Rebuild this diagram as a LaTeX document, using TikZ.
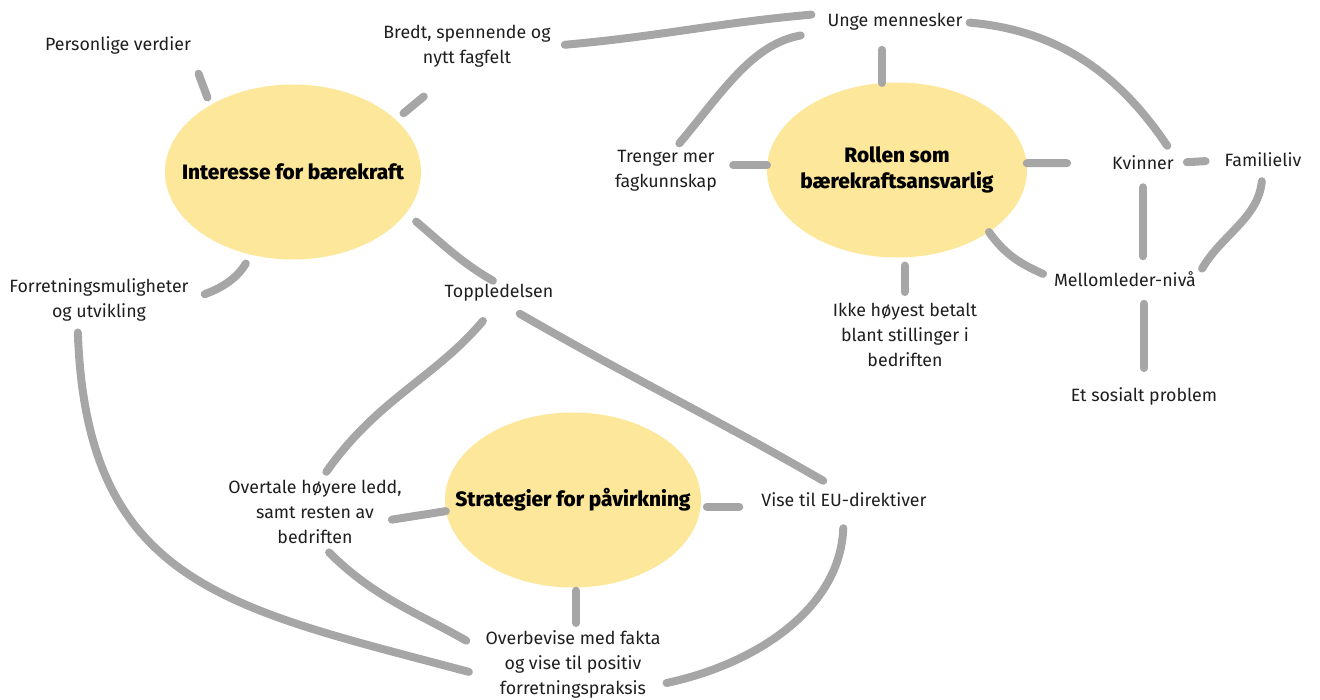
\documentclass[tikz,border=0pt]{standalone}
\usepackage{fontspec}
\setmainfont{Fira Sans}
\IfFontExistsTF{Fira Sans Heavy}{\newfontfamily\heavyfont{Fira Sans Heavy}}{%
	\IfFontExistsTF{Fira Sans ExtraBold}{\newfontfamily\heavyfont{Fira Sans ExtraBold}}{\newcommand{\heavyfont}{\bfseries}}}
\usetikzlibrary{shapes.geometric}
\definecolor{idealemon}{HTML}{FDE79A}
\definecolor{linkgray}{HTML}{A6A6A6}
\definecolor{ink}{HTML}{1E1E1E}

\begin{document}
\begin{tikzpicture}[x=1pt,y=1pt,
	idea/.style={ellipse, fill=idealemon, minimum width=256pt, minimum height=175pt, inner xsep=-30pt, inner ysep=0pt, align=center, font=\heavyfont\fontsize{20.8}{26}\selectfont},
	topic/.style={align=center, inner sep=0pt, text=ink, font=\fontsize{17.8}{25}\selectfont},
	link/.style={draw=linkgray, line width=8pt, line cap=round}]
			\useasboundingbox (0,0) rectangle (1320,-699);

			\node[idea]  (int)  at (293,-172)  {Interesse for bærekraft};
			\node[idea, minimum width=260pt]  (rol)  at (897,-170)  {Rollen som\\bærekraftsansvarlig};
			\node[idea]  (str)  at (573,-500)  {Strategier for påvirkning};

			\node[topic]  (pv)  at (118,-45)  {Personlige verdier};
			\node[topic]  (bredt)  at (467,-46)  {Bredt, spennende og\\nytt fagfelt};
			\node[topic]  (unge)  at (895,-22)  {Unge mennesker};
			\node[topic]  (trenger)  at (666,-171)  {Trenger mer\\fagkunnskap};
			\node[topic]  (kvinner)  at (1143,-163)  {Kvinner};
			\node[topic]  (fam)  at (1263,-160)  {Familieliv};
			\node[topic]  (mell)  at (1125,-279)  {Mellomleder-nivå};
			\node[topic]  (ikke)  at (905,-335)  {Ikke høyest betalt\\blant stillinger i\\bedriften};
			\node[topic]  (sosial)  at (1144,-396)  {Et sosialt problem};
			\node[topic]  (forr)  at (99,-300)  {Forretningsmuligheter\\og utvikling};
			\node[topic]  (topp)  at (499,-293)  {Toppledelsen};
			\node[topic]  (overtale)  at (315,-512)  {Overtale høyere ledd,\\samt resten av\\bedriften};
			\node[topic]  (vise)  at (844,-500)  {Vise til EU-direktiver};
			\node[topic]  (overb)  at (573,-664)  {Overbevise med fakta\\og vise til positiv\\forretningspraksis};

			\draw[link, shorten <=21pt, shorten >=8pt] (pv.south east) -- (int.141);
			\draw[link, shorten <=10pt, shorten >=46pt] (int.27) -- (bredt.250);
			\draw[link, shorten <=14pt, shorten >=16pt] (bredt.east) to[out=5,in=185] (unge.north west);
			\draw[link, shorten <=27pt, shorten >=9pt] (unge.south west) to[out=190,in=50] (trenger.70);
			\draw[link, shorten >=19pt] (rol.100) -- (rol.100 |- unge.south);
			\draw[link, shorten <=7pt, shorten >=12pt] (unge.east) to[out=-5,in=124] (kvinner.north east);
			\draw[link, shorten >=16pt] (rol.178) -- (rol.178 -| trenger.east);
			\draw[link, shorten >=45pt] (rol.3) -- (kvinner.west);
			\draw[link, shorten <=13pt, shorten >=19pt] (kvinner.east) -- (fam.west);
			\draw[link, shorten <=17pt, shorten >=15pt] (kvinner.south) -- (kvinner.south |- mell.north);
			\draw[link, shorten <=14pt, shorten >=12pt] (fam.south) to[out=-95,in=60] (mell.east);
			\draw[link, shorten >=12pt] (rol.-34) to[out=-55,in=155] (mell.west);
			\draw[link, shorten <=8pt, shorten >=11pt] (rol.-85) -- (rol.-85 |- ikke.north);
			\draw[link, shorten <=19pt, shorten >=17pt] (sosial.north) -- (sosial.north |- mell.south);
			\draw[link, shorten <=10pt, shorten >=17pt] (int.243) to[out=240,in=20] (forr.east);
			\draw[link, shorten <=13pt, shorten >=7pt] (int.-20) to[out=-40,in=150] (topp.north);
			\draw[link, shorten <=25pt, shorten >=10pt] (topp.south) to[out=230,in=55] (overtale.80);
			\draw[link, shorten <=24pt, shorten >=24pt] (topp.south) to[out=-30,in=150] (vise.north);
			\draw[link, shorten >=-10pt] (str.185) -- (overtale.-4);
			\draw[link, shorten <=6pt, shorten >=22pt] (str.-3) -- (str.-3 -| vise.west);
			\draw[link, shorten <=3pt, shorten >=7pt] (str.-88) -- (str.-88 |- overb.north);
			\draw[link, shorten <=12pt, shorten >=22pt] (overtale.-80) to[out=-45,in=150] (overb.172);
			\draw[link, shorten <=11pt, shorten >=17pt] (forr.225) to[out=-88,in=165,looseness=1.25] (overb.188);
			\draw[link, shorten <=21pt, shorten >=6pt] (vise.south) to[out=-92,in=12] (overb.-13);
		\end{tikzpicture}
\end{document}
